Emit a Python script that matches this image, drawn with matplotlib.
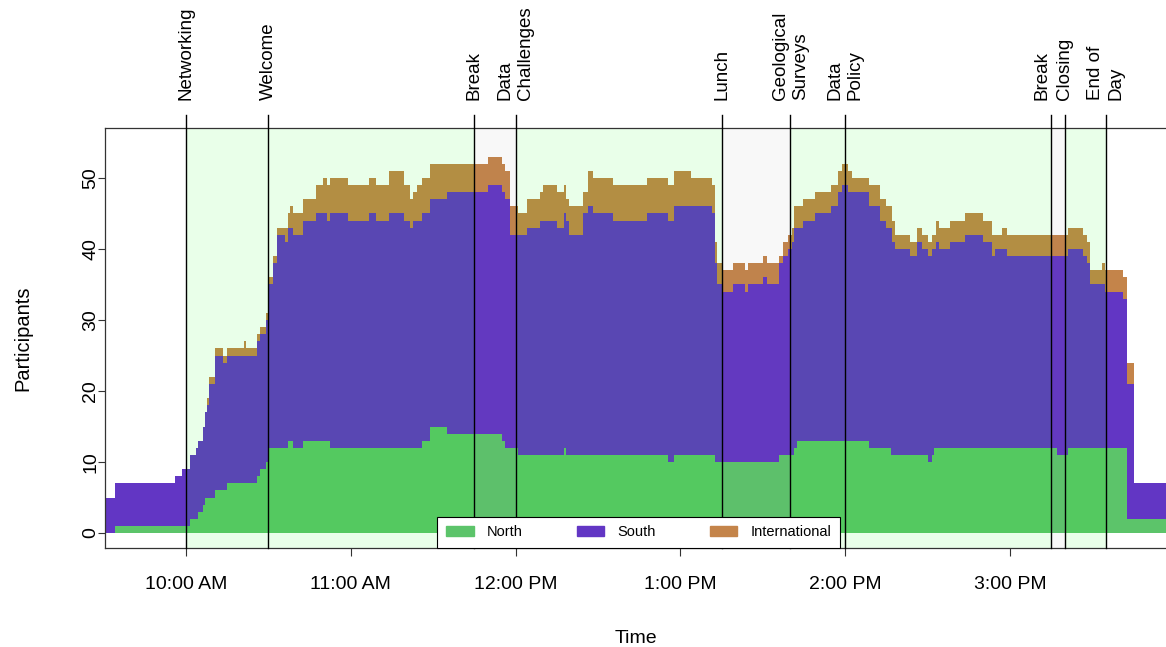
import matplotlib
matplotlib.use('Agg')
import matplotlib.pyplot as plt
from matplotlib.patches import Patch
from matplotlib.transforms import blended_transform_factory

plt.rcParams['font.family'] = ['Liberation Sans', 'DejaVu Sans']

# minutes after 9:30 AM at which the head counts change (step data)
minutes = [0.5, 1, 4, 26, 28.5, 31.5, 33.5, 34.5, 36, 37, 37.5, 38.5, 40.5, 43.5, 45,
           51, 52, 56, 57, 59, 60, 61.5, 63, 66, 67, 68, 69, 72.5, 77.5, 80,
           81.5, 82.5, 89, 96.5, 99, 104, 109.5, 111.5, 112.5, 114, 116, 119, 125, 140, 145,
           146, 148, 151, 154, 159, 160, 165, 167.5, 168.5, 169.5, 174.5, 176.5, 178, 185.5, 198,
           205.5, 207.5, 214, 221.5, 222.5, 223.5, 225, 229, 233.5, 234.5, 240, 241.5, 246, 247.5, 249,
           250.5, 251.5, 252.5, 254.5, 259, 265, 267.5, 269, 271, 272.5, 278.5, 282.5, 285, 286.5,
           287, 288, 293.5, 296, 298, 300, 301.5, 302.5, 303, 304, 308, 313.5, 320, 323.5, 324.5,
           327, 329, 347, 351, 356.5, 358, 359, 363.5, 364.5, 371, 372.5, 375]
north = [0, 0, 1, 1, 1, 2, 2, 3, 4, 5, 5, 5, 6, 6, 7,
         7, 7, 8, 9, 10, 12, 12, 12, 12, 13, 13, 12, 13, 13, 13,
         13, 12, 12, 12, 12, 12, 12, 12, 12, 12, 13, 15, 14, 14, 13,
         12, 12, 11, 11, 11, 11, 11, 12, 11, 11, 11, 11, 11, 11, 11,
         10, 11, 11, 11, 10, 10, 10, 10, 10, 10, 10, 10, 11, 11, 11,
         11, 12, 13, 13, 13, 13, 13, 13, 13, 13, 12, 12, 12, 11,
         11, 11, 11, 11, 11, 10, 11, 12, 12, 12, 12, 12, 12, 12, 12,
         12, 12, 11, 12, 12, 12, 12, 12, 12, 12, 2, 2]
south = [4, 5, 6, 7, 8, 9, 10, 10, 11, 12, 13, 16, 19, 18, 18,
         18, 18, 19, 19, 20, 23, 26, 30, 29, 30, 30, 30, 31, 32, 32,
         31, 33, 32, 33, 32, 33, 32, 31, 32, 32, 32, 32, 34, 35, 35,
         35, 30, 31, 32, 33, 33, 32, 33, 33, 31, 34, 35, 34, 33, 34,
         34, 35, 35, 34, 28, 25, 24, 25, 24, 25, 26, 25, 27, 28, 29,
         30, 31, 30, 31, 32, 33, 35, 36, 35, 35, 34, 32, 31, 32,
         30, 29, 28, 30, 29, 29, 29, 28, 29, 28, 29, 30, 29, 27, 28,
         28, 27, 28, 28, 27, 26, 23, 23, 22, 21, 19, 5]
international = [0, 0, 0, 0, 0, 0, 0, 0, 0, 0, 1, 1, 1, 1, 1,
                 2, 1, 1, 1, 1, 1, 1, 1, 2, 2, 3, 3, 3, 4, 5,
                 5, 5, 5, 5, 5, 6, 5, 4, 4, 5, 5, 5, 4, 4, 4,
                 4, 4, 3, 4, 4, 5, 5, 4, 3, 4, 3, 5, 5, 5, 5,
                 5, 5, 4, 4, 3, 3, 3, 3, 3, 3, 3, 3, 1, 2, 2,
                 2, 3, 3, 3, 3, 3, 3, 3, 3, 2, 3, 3, 3, 3,
                 3, 2, 2, 2, 2, 2, 2, 2, 3, 3, 3, 3, 3, 3, 2,
                 3, 3, 3, 3, 3, 3, 2, 3, 3, 3, 3, 0]
end_minute = 387

# agenda items (minutes after 9:30 AM)
events = ['Networking', 'Welcome', 'Break', 'Data\nChallenges', 'Lunch',
          'Geological\nSurveys', 'Data\nPolicy', 'Break', 'Closing', 'End of\nDay']
event_minutes = [30, 60, 135, 150, 225, 250, 270, 345, 350, 365]
pauses = ['Break', 'Lunch']

tick_minutes = [30, 90, 150, 210, 270, 330]
tick_labels = ['10:00 AM', '11:00 AM', '12:00 PM', '1:00 PM', '2:00 PM', '3:00 PM']

col_north = '#5cc46a'
col_south = '#6236c4'
col_intl = '#c4844a'

fig = plt.figure(figsize=(11.66, 6.47), dpi=100)
ax = fig.add_axes([105 / 1166, 1 - 548 / 647, 1 - 105 / 1166, 420 / 647])

x = minutes + [end_minute]
n = north + [north[-1]]
s = south + [south[-1]]
i = international + [international[-1]]
ns = [a + b for a, b in zip(n, s)]
tot = [a + b for a, b in zip(ns, i)]
zero = [0] * len(x)

ax.fill_between(x, zero, n, step='post', color=col_north, lw=0, zorder=1)
ax.fill_between(x, n, ns, step='post', color=col_south, lw=0, zorder=1)
ax.fill_between(x, ns, tot, step='post', color=col_intl, lw=0, zorder=1)

# shade each agenda slot: sessions in green, breaks in grey
for k in range(len(events) - 1):
    if events[k] in pauses:
        ax.axvspan(event_minutes[k], event_minutes[k + 1], color='grey', alpha=0.05, lw=0, zorder=2)
    else:
        ax.axvspan(event_minutes[k], event_minutes[k + 1], color='#00ff00', alpha=0.085, lw=0, zorder=2)

trans = blended_transform_factory(ax.transData, ax.transAxes)
for k, (name, m) in enumerate(zip(events, event_minutes)):
    ax.axvline(m, ymin=0, ymax=1.031, color='black', lw=1, clip_on=False, zorder=4)
    # the short afternoon break sits right next to "Closing", nudge its label left
    tx = m - 3.5 if k == 7 else m
    ax.text(tx, 1.067, name, transform=trans, rotation=90, ha='center', va='bottom',
            multialignment='left', fontsize=13.5, linespacing=1.25)

ax.set_xlim(0.5, 386.8)
ax.set_ylim(-2.11, 57.04)
ax.set_xticks(tick_minutes)
ax.set_xticklabels(tick_labels)
ax.set_yticks([0, 10, 20, 30, 40, 50])
ax.tick_params(axis='both', labelsize=14, width=0.8, color='#333333')
ax.tick_params(axis='x', pad=14, length=6)
ax.tick_params(axis='y', pad=-1, length=5, labelrotation=90)
for lab in ax.get_yticklabels():
    lab.set_va('center')

for side in ['left', 'top', 'bottom']:
    ax.spines[side].set_color('#333333')
    ax.spines[side].set_linewidth(0.9)
ax.spines['right'].set_visible(False)

ax.set_xlabel('Time', fontsize=14, labelpad=27)
ax.set_ylabel('Participants', fontsize=14.5, labelpad=36)

handles = [Patch(facecolor=col_north, edgecolor=col_north, label='North'),
           Patch(facecolor=col_south, edgecolor=col_south, label='South'),
           Patch(facecolor=col_intl, edgecolor=col_intl, label='International')]
leg = ax.legend(handles=handles, loc='lower center', bbox_to_anchor=(0.503, 0), ncol=3,
                fancybox=False, framealpha=1, edgecolor='black', fontsize=10.5,
                columnspacing=3.7, handlelength=1.9, handletextpad=0.9, borderaxespad=0,
                borderpad=0.6)
leg.get_frame().set_linewidth(0.8)
leg.set_zorder(5)

fig.savefig('out.png', dpi=100)
